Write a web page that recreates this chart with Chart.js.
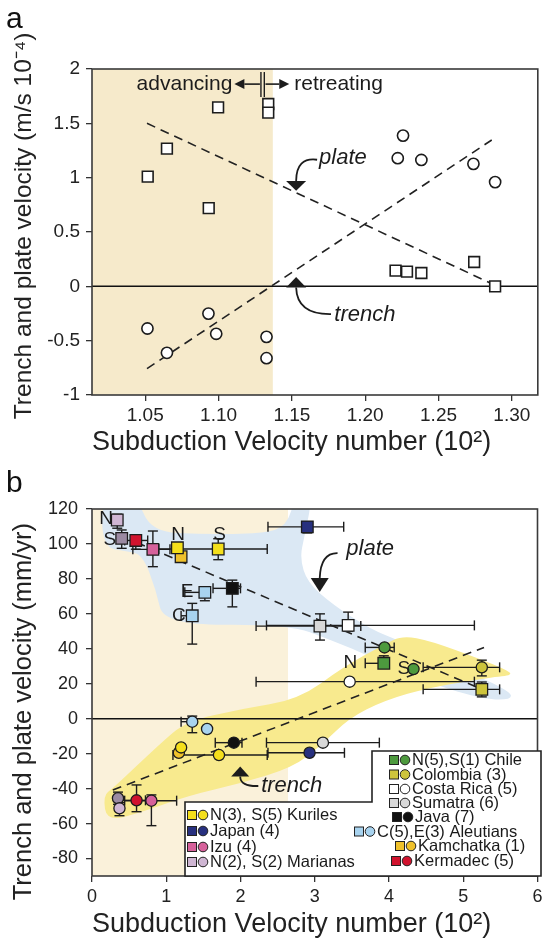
<!DOCTYPE html>
<html><head><meta charset="utf-8">
<script src="https://cdn.jsdelivr.net/npm/chart.js@4.4.1/dist/chart.umd.min.js"></script>
<style>
html,body{margin:0;padding:0;background:#fff;width:547px;height:942px;overflow:hidden;}
canvas{position:absolute;left:0;}
#ca{top:0;} #cb{top:470px;}
</style></head><body>
<canvas id="ca" width="547" height="470"></canvas>
<canvas id="cb" width="547" height="472"></canvas>
<script>
const FONT = "'Liberation Sans', Arial, Helvetica, sans-serif";

// ================= PANEL a DATA =================
const aXTicks = [1.05, 1.10, 1.15, 1.20, 1.25, 1.30];
const aYTicks = [-1, -0.5, 0, 0.5, 1, 1.5, 2];
const aXRange = [1.0137, 1.3177];
const aYRange = [-1, 2];
const aAdvancingLimit = 1.137;
const aPlatePoints = [
  {x:1.0517,y:1.01},{x:1.0648,y:1.267},{x:1.0933,y:0.72},{x:1.0997,y:1.647},
  {x:1.1339,y:1.678},{x:1.1339,y:1.598},{x:1.2207,y:0.144},{x:1.2285,y:0.135},
  {x:1.2383,y:0.123},{x:1.2743,y:0.224},{x:1.2886,y:0.0}
];
const aTrenchPoints = [
  {x:1.2258,y:1.387},{x:1.2222,y:1.179},{x:1.2383,y:1.163},{x:1.2738,y:1.127},{x:1.2886,y:0.959},
  {x:1.0515,y:-0.388},{x:1.0648,y:-0.612},{x:1.0931,y:-0.251},{x:1.0984,y:-0.437},
  {x:1.1327,y:-0.465},{x:1.1327,y:-0.661}
];
const aPlateFit = [{x:1.0512,y:1.50},{x:1.287,y:0.02}];
const aTrenchFit = [{x:1.0512,y:-0.757},{x:1.2863,y:1.347}];

// ================= PANEL b DATA =================
const bXTicks = [0,1,2,3,4,5,6];
const bYTicks = [-80,-60,-40,-20,0,20,40,60,80,100,120];
const bXRange = [0, 6];
const bYRange = [-90, 120];
const bAdvancingLimit = 2.64;
// squares = plate velocity, circles = trench velocity
const kurilesPlate   = [{x:1.15,y:97.8},{x:1.70,y:97.1,xMin:0.9,xMax:2.36,yMin:91,yMax:103}];
const kurilesTrench  = [{x:1.20,y:-16.4},{x:1.71,y:-20.8,xMin:1.09,xMax:2.36}];
const kamchatkaPlate = [{x:1.20,y:92.7}];
const kamchatkaTrench= [{x:1.17,y:-19.5}];
const japanPlate     = [{x:2.90,y:109.8,xMin:2.37,xMax:3.39,yMin:106.3}];
const japanTrench    = [{x:2.93,y:-19.5,xMin:2.37,xMax:3.40}];
const izuPlate       = [{x:0.82,y:96.9,xMin:0.55,xMax:1.05,yMin:87,yMax:107.4}];
const izuTrench      = [{x:0.80,y:-46.9,xMin:0.44,xMax:1.14,yMin:-61.2,yMax:-43.6}];
const marianasPlate  = [{x:0.34,y:113.7,yMin:109,yMax:117},{x:0.40,y:103.2,yMin:97.5,yMax:108}];
const marianasTrench = [{x:0.35,y:-45.5,yMin:-49,yMax:-42},{x:0.37,y:-51.3,yMin:-55.5,yMax:-48}];
const kermadecPlate  = [{x:0.59,y:102,xMin:0.44,xMax:0.75,yMin:97,yMax:104}];
const kermadecTrench = [{x:0.60,y:-46.7,xMin:0.40,xMax:0.72,yMin:-53.2,yMax:-37.9}];
const aleutiansPlate = [{x:1.52,y:72.3,xMin:1.25,yMin:67.5,yMax:75.5},{x:1.35,y:58.9,xMin:1.2,yMin:42.7,yMax:66}];
const aleutiansTrench= [{x:1.35,y:-1.7,xMin:1.2,yMin:-8,yMax:1.5},{x:1.55,y:-5.9}];
const javaPlate      = [{x:1.89,y:74.6,xMin:1.63,xMax:2.0,yMin:64,yMax:79.3}];
const javaTrench     = [{x:1.91,y:-13.7,xMin:1.66,xMax:2.02}];
const sumatraPlate   = [{x:3.07,y:53,xMin:2.21,xMax:3.62,yMin:45,yMax:60}];
const sumatraTrench  = [{x:3.11,y:-13.7,xMin:2.35,xMax:3.87}];
const costaPlate     = [{x:3.45,y:53.4,xMin:2.35,xMax:5.15,yMin:50,yMax:61}];
const costaTrench    = [{x:3.47,y:21.2,xMin:2.21,xMax:5.15}];
const chilePlate     = [{x:3.93,y:31.7,xMin:3.68,xMax:3.97,yMax:36}];
const chileTrench    = [{x:3.94,y:40.8,xMin:3.68,xMax:4.07},{x:4.33,y:28.4}];
const colombiaPlate  = [{x:5.25,y:16.8,xMin:4.46,xMax:5.49,yMin:12.5,yMax:21}];
const colombiaTrench = [{x:5.25,y:29.4,xMin:4.46,xMax:5.49,yMin:24.5,yMax:33.5}];
const bPlateFit  = [{x:0.6,y:100.8},{x:5.17,y:18.3}];
const bTrenchFit = [{x:0.28,y:-40.8},{x:5.28,y:40.8}];
const bPointLabels = [
  {t:'N',x:0.19,y:114.5},{t:'S',x:0.24,y:102.2},{t:'N',x:1.16,y:105},{t:'S',x:1.72,y:105},
  {t:'E',x:1.28,y:72.5},{t:'C',x:1.17,y:58.8},{t:'N',x:3.48,y:31.9},{t:'S',x:4.2,y:28.4}
];
// shaded envelopes (data units)
const plateBand = [[0.12,127],[0.6,127],[0.8,107],[1.5,105.5],[2.3,106],[2.62,110],[2.74,127],[2.97,127],
  [2.86,104],[2.8,92],[2.9,78],[3.25,65],[3.76,51],[4.12,45],[5.0,28],[5.62,16],[5.66,11],[5.3,11],
  [4.56,20],[3.67,37],[3.22,45],[2.65,54],[0.97,53.5],[0.86,74],[0.68,94],[0.45,96],[0.15,98]];
const trenchBand = [[0.15,-44],[0.28,-40],[0.91,-14.5],[1.27,-1.5],[2.0,5.5],[2.78,11],[3.4,30],[3.94,42.5],
  [4.18,47.5],[4.56,44.5],[5.23,34],[5.55,28.5],[5.68,25],[5.36,23.5],[4.56,18],[3.94,10.5],[3.45,0],
  [3.1,-15],[2.7,-28],[2.0,-37],[1.3,-44],[0.7,-53],[0.2,-59]];

// ================= STYLES =================
const C = {
  kuriles:'#f4df1b', japan:'#27307f', izu:'#d6619b', marN:'#cfb6d3', marS:'#9b8aa2',
  chile:'#4d9a3e', colombia:'#cdc43c', costa:'#ffffff', sumatra:'#d8d8d8', java:'#111111',
  aleutians:'#a8d3ef', kamchatka:'#efc12b', kermadec:'#d1132e'
};
const INK = '#1c1c1c';

function tri(ctx, pts){ctx.beginPath();ctx.moveTo(pts[0][0],pts[0][1]);ctx.lineTo(pts[1][0],pts[1][1]);ctx.lineTo(pts[2][0],pts[2][1]);ctx.closePath();ctx.fill();}
function seg(ctx,x1,y1,x2,y2){ctx.beginPath();ctx.moveTo(x1,y1);ctx.lineTo(x2,y2);ctx.stroke();}
function smoothPath(ctx, pts){
  const n=pts.length, mid=(a,b)=>[(a[0]+b[0])/2,(a[1]+b[1])/2];
  const m0=mid(pts[n-1],pts[0]); ctx.beginPath(); ctx.moveTo(m0[0],m0[1]);
  for(let i=0;i<n;i++){const p=pts[i], m=mid(p,pts[(i+1)%n]); ctx.quadraticCurveTo(p[0],p[1],m[0],m[1]);}
  ctx.closePath();
}
function drawErrorBars(chart){
  const {ctx, scales:{x,y}} = chart;
  ctx.save(); ctx.strokeStyle=INK; ctx.lineWidth=1.4; const c=5;
  chart.data.datasets.forEach(ds=>{
    if(!ds.errorBars) return;
    ds.data.forEach(p=>{
      const px=x.getPixelForValue(p.x), py=y.getPixelForValue(p.y);
      if(p.xMin!==undefined||p.xMax!==undefined){
        const x1=x.getPixelForValue(p.xMin??p.x), x2=x.getPixelForValue(p.xMax??p.x);
        seg(ctx,x1,py,x2,py);
        if(p.xMin!==undefined) seg(ctx,x1,py-c,x1,py+c);
        if(p.xMax!==undefined) seg(ctx,x2,py-c,x2,py+c);
      }
      if(p.yMin!==undefined||p.yMax!==undefined){
        const y1=y.getPixelForValue(p.yMin??p.y), y2=y.getPixelForValue(p.yMax??p.y);
        seg(ctx,px,y1,px,y2);
        if(p.yMin!==undefined) seg(ctx,px-c,y1,px+c,y1);
        if(p.yMax!==undefined) seg(ctx,px-c,y2,px+c,y2);
      }
    });
  });
  ctx.restore();
}
function frame(chart){
  const {ctx, chartArea:a} = chart;
  ctx.save(); ctx.strokeStyle='#3a3a3a'; ctx.lineWidth=1.6;
  ctx.strokeRect(a.left,a.top,a.right-a.left,a.bottom-a.top); ctx.restore();
}
function zeroLine(chart){
  const {ctx, chartArea:a, scales:{y}} = chart; const y0=y.getPixelForValue(0);
  ctx.save(); ctx.strokeStyle='#111'; ctx.lineWidth=1.5; seg(ctx,a.left,y0,a.right,y0); ctx.restore();
}
function axisCommon(ticksArr, fmt, size, pad, tl){
  return {
    type:'linear',
    afterBuildTicks:s=>{s.ticks=ticksArr.map(v=>({value:v}));},
    ticks:{callback:fmt, font:{family:FONT,size:size}, color:'#222', padding:pad, maxRotation:0, autoSkip:false},
    grid:{drawOnChartArea:false, drawTicks:true, tickLength:tl, color:'#333', lineWidth:1.3},
    border:{display:false}
  };
}

// ================= PANEL a =================
const panelA = {
  id:'panelA',
  beforeDatasetsDraw(chart){
    const {ctx, chartArea:a, scales:{x}} = chart;
    ctx.save(); ctx.fillStyle='#f6eacb';
    const xb=x.getPixelForValue(aAdvancingLimit);
    ctx.fillRect(a.left,a.top,xb-a.left,a.bottom-a.top); ctx.restore();
    zeroLine(chart);
  },
  afterDatasetsDraw(chart){
    const {ctx, scales:{x,y}} = chart;
    const P=(vx,vy)=>[x.getPixelForValue(vx),y.getPixelForValue(vy)];
    ctx.save(); ctx.fillStyle=INK; ctx.strokeStyle=INK; ctx.lineWidth=1.6;
    ctx.font="21px "+FONT; ctx.textBaseline='middle';
    let p=P(1.1094,1.861); ctx.textAlign='right'; ctx.fillText('advancing',p[0],p[1]);
    p=P(1.1516,1.861); ctx.textAlign='left'; ctx.fillText('retreating',p[0],p[1]);
    // arrows
    let s=P(1.1282,1.861), e=P(1.1176,1.861); seg(ctx,s[0],s[1],e[0],e[1]);
    let t=P(1.1108,1.861); tri(ctx,[[t[0],t[1]],[e[0],e[1]-5],[e[0],e[1]+5]]);
    s=P(1.1320,1.861); e=P(1.1414,1.861); seg(ctx,s[0],s[1],e[0],e[1]);
    t=P(1.1482,1.861); tri(ctx,[[t[0],t[1]],[e[0],e[1]-5],[e[0],e[1]+5]]);
    ctx.lineWidth=1.4;
    for(const bx of [1.1289,1.1312]){const b1=P(bx,1.972), b2=P(bx,1.742); seg(ctx,b1[0],b1[1],b2[0],b2[1]);}
    // plate label
    ctx.font="italic 22px "+FONT; ctx.textAlign='center';
    p=P(1.1848,1.181); ctx.fillText('plate',p[0],p[1]);
    ctx.lineWidth=1.8;
    let a0=P(1.1672,1.165), c0=P(1.1530,1.19), a1=P(1.1529,0.97);
    ctx.beginPath(); ctx.moveTo(a0[0],a0[1]); ctx.quadraticCurveTo(c0[0],c0[1],a1[0],a1[1]); ctx.stroke();
    t=P(1.1529,0.879); tri(ctx,[[t[0],t[1]],[a1[0]-10,a1[1]],[a1[0]+10,a1[1]]]);
    // trench label
    p=P(1.1998,-0.262); ctx.fillText('trench',p[0],p[1]);
    a0=P(1.1529,-0.01); c0=P(1.1535,-0.26); a1=P(1.1767,-0.255);
    ctx.beginPath(); ctx.moveTo(a0[0],a0[1]); ctx.quadraticCurveTo(c0[0],c0[1],a1[0],a1[1]); ctx.stroke();
    t=P(1.1529,0.085); tri(ctx,[[t[0],t[1]],[a0[0]-10,a0[1]],[a0[0]+10,a0[1]]]);
    ctx.restore();
    frame(chart);
    // panel letter
    ctx.save(); ctx.fillStyle='#111'; ctx.font="30px "+FONT; ctx.textBaseline='alphabetic'; ctx.textAlign='left';
    ctx.fillText('a',6,28); ctx.restore();
  }
};

new Chart(document.getElementById('ca'), {
  type:'scatter',
  data:{datasets:[
    {label:'plate', data:aPlatePoints, pointStyle:'rect', pointRadius:7.6, backgroundColor:'#fff', borderColor:INK, borderWidth:1.6, order:1},
    {label:'trench', data:aTrenchPoints, pointStyle:'circle', pointRadius:5.6, backgroundColor:'#fff', borderColor:INK, borderWidth:1.6, order:1},
    {label:'plate fit', data:aPlateFit, showLine:true, pointRadius:0, borderColor:'#222', borderWidth:1.6, borderDash:[9,6], order:5},
    {label:'trench fit', data:aTrenchFit, showLine:true, pointRadius:0, borderColor:'#222', borderWidth:1.6, borderDash:[9,6], order:5}
  ]},
  options:{
    responsive:false, animation:false, events:[],
    layout:{padding:{top:69,right:6,left:0,bottom:0}},
    plugins:{legend:{display:false}, tooltip:{enabled:false}},
    scales:{
      x:Object.assign(axisCommon(aXTicks, v=>Number(v).toFixed(2), 19, 3, 6), {
        min:aXRange[0], max:aXRange[1], afterFit:s=>{s.height=75;},
        title:{display:true, text:'Subduction Velocity number (10²)', align:'start', color:'#222',
          font:{family:FONT,size:27,lineHeight:1.2}, padding:{top:0,bottom:11}}
      }),
      y:Object.assign(axisCommon(aYTicks, v=>String(v), 19, 6, 6), {
        min:aYRange[0], max:aYRange[1], afterFit:s=>{s.width=92;},
        title:{display:true, text:'\u2002Trench and plate velocity (m/s 10⁻⁴)', color:'#222',
          font:{family:FONT,size:24.5,lineHeight:1.2}, padding:{top:10,bottom:0}}
      })
    }
  },
  plugins:[panelA]
});

// ================= PANEL b =================
const groups = [
  {plate:kurilesPlate, trench:kurilesTrench, col:[C.kuriles]},
  {plate:kamchatkaPlate, trench:kamchatkaTrench, col:[C.kamchatka]},
  {plate:japanPlate, trench:japanTrench, col:[C.japan]},
  {plate:izuPlate, trench:izuTrench, col:[C.izu]},
  {plate:marianasPlate, trench:marianasTrench, col:[C.marN,C.marS], tcol:[C.marS,C.marN]},
  {plate:kermadecPlate, trench:kermadecTrench, col:[C.kermadec]},
  {plate:aleutiansPlate, trench:aleutiansTrench, col:[C.aleutians]},
  {plate:javaPlate, trench:javaTrench, col:[C.java]},
  {plate:sumatraPlate, trench:sumatraTrench, col:[C.sumatra]},
  {plate:costaPlate, trench:costaTrench, col:[C.costa]},
  {plate:chilePlate, trench:chileTrench, col:[C.chile]},
  {plate:colombiaPlate, trench:colombiaTrench, col:[C.colombia]}
];
const bDatasets = [];
groups.forEach(g=>{
  bDatasets.push({data:g.plate, errorBars:true, pointStyle:'rect', pointRadius:8.2,
    backgroundColor:g.col.length>1?g.col:g.col[0], borderColor:INK, borderWidth:1.3, order:1});
  const tc=g.tcol||g.col;
  bDatasets.push({data:g.trench, errorBars:true, pointStyle:'circle', pointRadius:5.6,
    backgroundColor:tc.length>1?tc:tc[0], borderColor:INK, borderWidth:1.3, order:1});
});
bDatasets.push({data:bPlateFit, showLine:true, pointRadius:0, borderColor:'#222', borderWidth:1.6, borderDash:[9,6], order:5});
bDatasets.push({data:bTrenchFit, showLine:true, pointRadius:0, borderColor:'#222', borderWidth:1.6, borderDash:[9,6], order:5});

const legendRight = [
  {t:'N(5),S(1) Chile', c:C.chile, x:394, y:760},
  {t:'Colombia (3)', c:C.colombia, x:394, y:774.5},
  {t:'Costa Rica (5)', c:C.costa, x:394, y:789},
  {t:'Sumatra (6)', c:C.sumatra, x:394, y:803},
  {t:'Java (7)', c:C.java, x:397, y:817},
  {t:'C(5),E(3) Aleutians', c:C.aleutians, x:359, y:831.5},
  {t:'Kamchatka (1)', c:C.kamchatka, x:400, y:846},
  {t:'Kermadec (5)', c:C.kermadec, x:396, y:861}
];
const legendLeft = [
  {t:'N(3), S(5) Kuriles', c:C.kuriles, x:192, y:815},
  {t:'Japan (4)', c:C.japan, x:192, y:831},
  {t:'Izu (4)', c:C.izu, x:192, y:847},
  {t:'N(2), S(2) Marianas', c:C.marN, x:192, y:862}
];

const panelB = {
  id:'panelB',
  beforeDatasetsDraw(chart){
    const {ctx, chartArea:a, scales:{x,y}} = chart;
    const P=(v)=>[x.getPixelForValue(v[0]),y.getPixelForValue(v[1])];
    ctx.save();
    ctx.beginPath(); ctx.rect(a.left,a.top,a.right-a.left,a.bottom-a.top); ctx.clip();
    ctx.fillStyle='#faf1da';
    ctx.fillRect(a.left,a.top,x.getPixelForValue(bAdvancingLimit)-a.left,a.bottom-a.top);
    ctx.fillStyle='#dbe8f4'; smoothPath(ctx, plateBand.map(P)); ctx.fill();
    ctx.fillStyle='#f8ea8e'; smoothPath(ctx, trenchBand.map(P)); ctx.fill();
    ctx.restore();
    zeroLine(chart);
    drawErrorBars(chart);
  },
  afterDatasetsDraw(chart){
    const {ctx, scales:{x,y}} = chart;
    const P=(vx,vy)=>[x.getPixelForValue(vx),y.getPixelForValue(vy)];
    ctx.save(); ctx.fillStyle=INK; ctx.strokeStyle=INK;
    ctx.font="19px "+FONT; ctx.textAlign='center'; ctx.textBaseline='middle';
    bPointLabels.forEach(l=>{const p=P(l.x,l.y); ctx.fillText(l.t,p[0],p[1]);});
    // plate annotation
    ctx.font="italic 22px "+FONT;
    let p=P(3.747,97); ctx.fillText('plate',p[0],p[1]);
    ctx.lineWidth=1.8;
    let a0=P(3.307,94.8), c0=P(3.08,95), a1=P(3.067,80.5);
    ctx.beginPath(); ctx.moveTo(a0[0],a0[1]); ctx.quadraticCurveTo(c0[0],c0[1],a1[0],a1[1]); ctx.stroke();
    let t=P(3.067,72.5); tri(ctx,[[t[0],t[1]],[a1[0]-9,a1[1]],[a1[0]+9,a1[1]]]);
    // trench annotation
    p=P(2.69,-38.5); ctx.fillText('trench',p[0],p[1]);
    a0=P(1.996,-33); c0=P(1.996,-38.8); a1=P(2.24,-38.5);
    ctx.beginPath(); ctx.moveTo(a0[0],a0[1]); ctx.quadraticCurveTo(c0[0],c0[1],a1[0],a1[1]); ctx.stroke();
    t=P(1.996,-27.4); tri(ctx,[[t[0],t[1]],[a0[0]-9,a0[1]],[a0[0]+9,a0[1]]]);
    ctx.restore();
    frame(chart);
    // legend (canvas offset 470)
    const o=470;
    ctx.save();
    ctx.beginPath();
    ctx.moveTo(372,751-o); ctx.lineTo(541,751-o); ctx.lineTo(541,876-o); ctx.lineTo(185,876-o);
    ctx.lineTo(185,802-o); ctx.lineTo(372,802-o); ctx.closePath();
    ctx.fillStyle='#fff'; ctx.fill(); ctx.strokeStyle='#222'; ctx.lineWidth=1.6; ctx.stroke();
    ctx.font="16.5px "+FONT; ctx.textBaseline='middle'; ctx.textAlign='left'; ctx.lineWidth=1;
    [...legendLeft, ...legendRight].forEach(l=>{
      const yy=l.y-o;
      ctx.fillStyle=l.c; ctx.fillRect(l.x-4.5,yy-4.5,9,9); ctx.strokeStyle='#222'; ctx.strokeRect(l.x-4.5,yy-4.5,9,9);
      ctx.beginPath(); ctx.arc(l.x+11,yy,4.8,0,Math.PI*2); ctx.fill(); ctx.stroke();
      ctx.fillStyle='#1a1a1a'; ctx.fillText(l.t,l.x+18,yy+0.5);
    });
    ctx.restore();
    ctx.save(); ctx.fillStyle='#111'; ctx.font="30px "+FONT; ctx.textBaseline='alphabetic'; ctx.textAlign='left';
    ctx.fillText('b',6,22); ctx.restore();
  }
};

new Chart(document.getElementById('cb'), {
  type:'scatter',
  data:{datasets:bDatasets},
  options:{
    responsive:false, animation:false, events:[],
    layout:{padding:{top:39,right:6,left:0,bottom:0}},
    plugins:{legend:{display:false}, tooltip:{enabled:false}},
    scales:{
      x:Object.assign(axisCommon(bXTicks, v=>String(v), 18, 4, 6), {
        min:bXRange[0], max:bXRange[1], afterFit:s=>{s.height=66;},
        title:{display:true, text:'Subduction Velocity number (10²)', align:'start', color:'#222',
          font:{family:FONT,size:27,lineHeight:1.2}, padding:{top:0,bottom:1}}
      }),
      y:Object.assign(axisCommon(bYTicks, v=>String(v), 18, 8, 6), {
        min:bYRange[0], max:bYRange[1], afterFit:s=>{s.width=92;},
        title:{display:true, text:'Trench and plate velocity (mm/yr)\u2002\u2002\u2002', color:'#222',
          font:{family:FONT,size:25.5,lineHeight:1.2}, padding:{top:9,bottom:0}}
      })
    }
  },
  plugins:[panelB]
});
</script>
</body></html>
